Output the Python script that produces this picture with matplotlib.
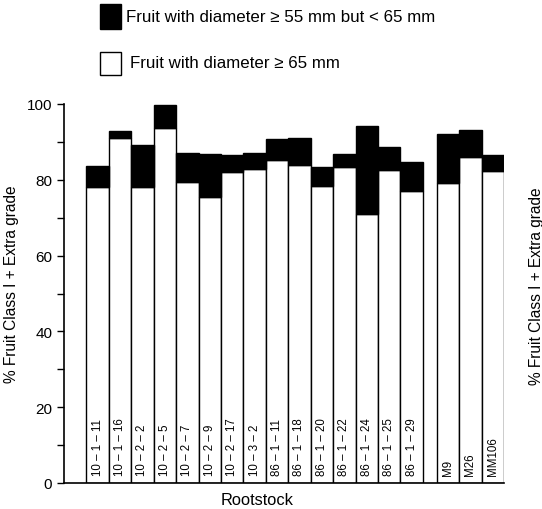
import numpy as np
import matplotlib
matplotlib.use('Agg')
import matplotlib.pyplot as plt
from matplotlib.patches import Rectangle

plt.rcParams['font.family'] = ['Liberation Sans', 'DejaVu Sans']

#data
rootstocks = ['10 \u2013 1 \u2013 11', '10 \u2013 1 \u2013 16', '10 \u2013 2 \u2013 2', '10 \u2013 2 \u2013 5',
              '10 \u2013 2 \u2013 7', '10 \u2013 2 \u2013 9', '10 \u2013 2 \u2013 17', '10 \u2013 3 \u2013 2',
              '86 \u2013 1 \u2013 11', '86 \u2013 1 \u2013 18', '86 \u2013 1 \u2013 20', '86 \u2013 1 \u2013 22',
              '86 \u2013 1 \u2013 24', '86 \u2013 1 \u2013 25', '86 \u2013 1 \u2013 29',
              'M9', 'M26', 'MM106']
large = [78.2, 90.9, 78.2, 93.6, 79.5, 75.5, 82.1, 82.8, 85.3, 83.8,
         78.3, 83.5, 71.0, 82.6, 77.1, 79.1, 85.9, 82.3]
medium = [5.5, 2.1, 11.1, 6.1, 7.6, 11.3, 4.5, 4.4, 5.5, 7.2,
          5.0, 3.3, 23.3, 6.1, 7.7, 13.0, 7.3, 4.3]
yticks = [0, 20, 40, 60, 80, 100]

label_large = 'Fruit with diameter \u2265 65 mm'
label_medium = 'Fruit with diameter \u2265 55 mm but < 65 mm'
ylabel = '% Fruit Class I + Extra grade'

W, H = 542, 510
fig = plt.figure(figsize=(W / 100.0, H / 100.0), dpi=100)
ax = fig.add_axes([64.0 / W, 1 - 484.0 / H, 440.0 / W, 379.0 / H])

#selections first, then the controls after a small gap
lefts = np.arange(len(rootstocks), dtype=float) + 1.0
lefts[15:] += 0.62
centers = lefts + 0.5

ax.bar(centers, large, width=1.0, color='white', edgecolor='black', linewidth=1.0)
ax.bar(centers, medium, bottom=large, width=1.0, color='black', edgecolor='black', linewidth=1.0)

for c, name in zip(centers, rootstocks):
    ax.text(c, 2.0, name, rotation=90, ha='center', va='bottom', fontsize=8.3)

ax.set_xlim(0, lefts[-1] + 1.0)
ax.set_ylim(0, 100)
ax.set_yticks(yticks)
ax.set_yticks(np.arange(10, 100, 20), minor=True)
ax.tick_params(axis='y', which='both', direction='out', length=5, width=1.0, labelsize=11)
ax.set_xticks([])
for s in ['top', 'right']:
    ax.spines[s].set_visible(False)
for s in ['left', 'bottom']:
    ax.spines[s].set_linewidth(1.2)

fig.text(257.0 / W, 1 - 501.0 / H, 'Rootstock', ha='center', va='center', fontsize=11.8)
fig.text(12.0 / W, 1 - 284.0 / H, ylabel, rotation=90, ha='center', va='center', fontsize=11.2)
fig.text(536.0 / W, 1 - 286.0 / H, ylabel, rotation=90, ha='center', va='center', fontsize=11.2)

#legend drawn by hand at the top
fig.add_artist(Rectangle((100.0 / W, 1 - 30.0 / H), 21.0 / W, 25.0 / H, transform=fig.transFigure,
                         facecolor='black', edgecolor='black'))
fig.add_artist(Rectangle((100.0 / W, 1 - 76.0 / H), 21.0 / W, 23.0 / H, transform=fig.transFigure,
                         facecolor='white', edgecolor='black', linewidth=1.0))
fig.text(126.0 / W, 1 - 17.0 / H, label_medium, ha='left', va='center', fontsize=12.2)
fig.text(130.0 / W, 1 - 64.0 / H, label_large, ha='left', va='center', fontsize=12.2)

fig.savefig('out.png', dpi=100)
